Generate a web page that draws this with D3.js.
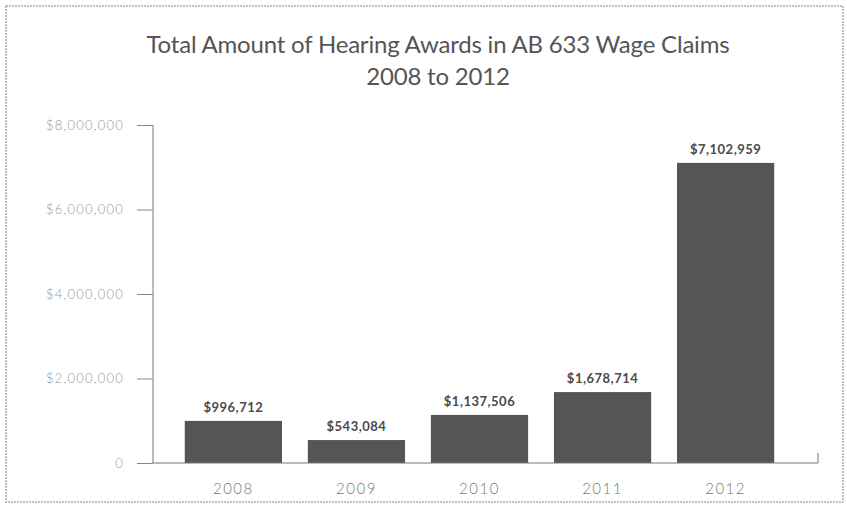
<!DOCTYPE html>
<html>
<head>
<meta charset="utf-8">
<script src="https://cdn.jsdelivr.net/npm/d3@7"></script>
<style>
  body { margin: 0; background: #fff; }
  svg text { font-family: Lato, "Open Sans", sans-serif; }
</style>
</head>
<body>
<div id="chart"></div>
<script>
var svgWidth = 847;
var svgHeight = 507;

// data
var years = ["2008", "2009", "2010", "2011", "2012"];
var awards = [996712, 543084, 1137506, 1678714, 7102959];
var yTicks = [0, 2000000, 4000000, 6000000, 8000000];
var titleLines = ["Total Amount of Hearing Awards in AB 633 Wage Claims", "2008 to 2012"];

var svg = d3.select("#chart")
  .append("svg")
  .attr("width", svgWidth)
  .attr("height", svgHeight);

// scanned page frame
svg.append("rect")
  .attr("x", 6).attr("y", 6)
  .attr("width", 837).attr("height", 496)
  .attr("fill", "none")
  .attr("stroke", "#aaa")
  .attr("stroke-width", 1.5)
  .attr("stroke-dasharray", "2,1");

var axisX = 153;
var baseY = 463;

var xScale = d3.scaleBand()
  .domain(years)
  .range([170, 789])
  .paddingInner(0.21)
  .paddingOuter(0.12);

var yScale = d3.scaleLinear()
  .domain([0, 8000000])
  .range([baseY, 125]);

// title
svg.selectAll(".title")
  .data(titleLines)
  .enter().append("text")
    .attr("class", "title")
    .attr("x", 438)
    .attr("y", function(d, i) { return 53 + i * 32; })
    .attr("text-anchor", "middle")
    .attr("fill", "#555")
    .attr("font-size", "24px")
    .attr("font-weight", 400)
    .attr("letter-spacing", "-0.2px")
    .text(function(d) { return d; });

// bars
svg.selectAll(".bar")
  .data(awards)
  .enter().append("rect")
    .attr("class", "bar")
    .attr("x", function(d, i) { return xScale(years[i]); })
    .attr("y", function(d) { return yScale(d); })
    .attr("width", xScale.bandwidth())
    .attr("height", function(d) { return baseY - yScale(d); })
    .attr("fill", "#555");

// value labels above the bars
svg.selectAll(".valueLabel")
  .data(awards)
  .enter().append("text")
    .attr("class", "valueLabel")
    .attr("x", function(d, i) { return xScale(years[i]) + xScale.bandwidth() / 2; })
    .attr("y", function(d) { return yScale(d) - 9; })
    .attr("text-anchor", "middle")
    .attr("fill", "#4a4a4a")
    .attr("font-size", "13px")
    .attr("font-weight", 700)
    .attr("letter-spacing", "0.5px")
    .text(function(d) { return "$" + d3.format(",")(d); });

// y axis
var leftAxis = d3.axisLeft(yScale)
  .tickValues(yTicks)
  .tickSize(16)
  .tickPadding(13)
  .tickFormat(function(d) { return d === 0 ? "0" : "$" + d3.format(",")(d); });

var yAxis = svg.append("g")
  .attr("transform", "translate(" + axisX + ",0)")
  .call(leftAxis);
yAxis.select(".domain").attr("stroke", "#777").attr("d", "M0," + yScale(8000000) + "V" + baseY);
yAxis.selectAll(".tick line").attr("stroke", "#888");
yAxis.selectAll(".tick text")
  .attr("fill", "#999")
  .attr("font-size", "13px")
  .attr("font-weight", 300)
  .attr("letter-spacing", "1.2px");

// x axis
var bottomAxis = d3.axisBottom(xScale).tickSize(0).tickPadding(20);
var xAxis = svg.append("g")
  .attr("transform", "translate(0," + baseY + ")")
  .call(bottomAxis);
xAxis.select(".domain")
  .attr("stroke", "#777")
  .attr("d", "M" + axisX + ",0H818V-10");
xAxis.selectAll(".tick text")
  .attr("fill", "#777")
  .attr("font-size", "15px")
  .attr("font-weight", 300)
  .attr("letter-spacing", "1.5px");
</script>
</body>
</html>
